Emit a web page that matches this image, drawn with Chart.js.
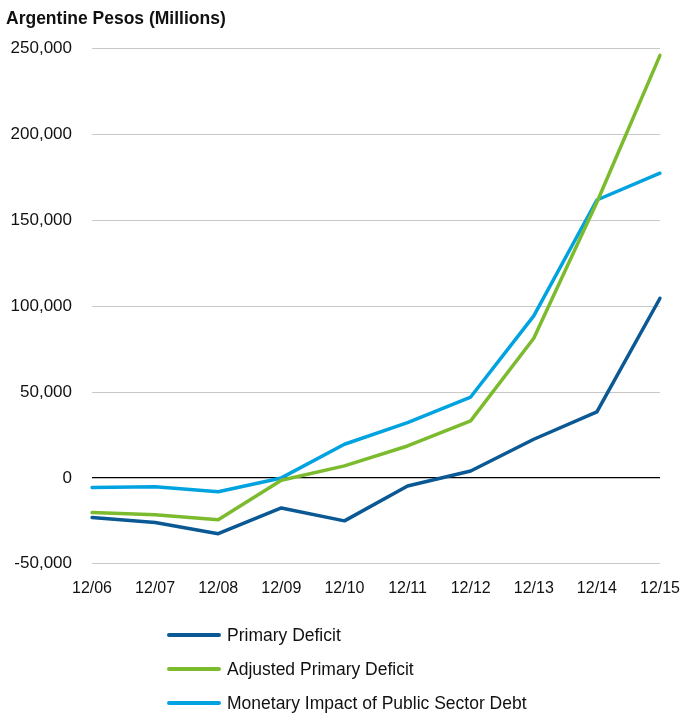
<!DOCTYPE html>
<html>
<head>
<meta charset="utf-8">
<script src="https://cdn.jsdelivr.net/npm/chart.js@4.4.1/dist/chart.umd.min.js"></script>
<style>
    html, body { margin: 0; padding: 0; background: #fff; }
    #wrap { position: relative; width: 680px; height: 715px; }
    #legend { position: absolute; left: 167px; top: 618px; font-family: "Liberation Sans", Arial, sans-serif; font-size: 17.5px; color: #111; }
    .leg-row { display: flex; align-items: center; height: 34px; }
    .leg-line { width: 54px; height: 4px; border-radius: 2px; margin-right: 6px; }
</style>
</head>
<body>
<div id="wrap">
    <canvas id="chart" width="680" height="715"></canvas>
    <div id="legend"></div>
</div>
<script>
// Argentine fiscal deficit chart

const periods = ['12/06', '12/07', '12/08', '12/09', '12/10', '12/11', '12/12', '12/13', '12/14', '12/15'];

const primaryDeficit = [-23000, -26000, -32500, -17500, -25000, -4700, 4000, 22500, 38500, 104600];
const adjustedPrimaryDeficit = [-20200, -21500, -24300, -1400, 7000, 18600, 33200, 81300, 160500, 246000];
const monetaryImpact = [-5600, -5200, -8100, 0, 19600, 32200, 47100, 94300, 161800, 177400];

const yTicks = [-50000, 0, 50000, 100000, 150000, 200000, 250000];

const seriesColors = ['#0a5894', '#7dbb2e', '#00a3df'];
const seriesNames = ['Primary Deficit', 'Adjusted Primary Deficit', 'Monetary Impact of Public Sector Debt'];

const FONT = '"Liberation Sans", Arial, sans-serif';

function makeDataset(label, data, color) {
    return {
        label: label,
        data: data,
        borderColor: color,
        backgroundColor: color,
        borderWidth: 3.5,
        pointRadius: 0,
        tension: 0,
        borderJoinStyle: 'round',
        borderCapStyle: 'round'
    };
}

const ctx = document.getElementById('chart').getContext('2d');
const chart = new Chart(ctx, {
    type: 'line',
    data: {
        labels: periods,
        datasets: [
            makeDataset(seriesNames[0], primaryDeficit, seriesColors[0]),
            makeDataset(seriesNames[1], adjustedPrimaryDeficit, seriesColors[1]),
            makeDataset(seriesNames[2], monetaryImpact, seriesColors[2])
        ]
    },
    options: {
        responsive: false,
        animation: false,
        layout: { padding: { left: 6, right: 20, top: 4, bottom: 102 } },
        plugins: {
            legend: { display: false },
            tooltip: { enabled: false },
            title: {
                display: true,
                text: 'Argentine Pesos (Millions)',
                align: 'start',
                color: '#111',
                font: { family: FONT, size: 17.5, weight: 'bold' },
                padding: { top: 5, bottom: 18.5 }
            }
        },
        scales: {
            x: {
                offset: false,
                grid: { display: false, drawTicks: false },
                border: { display: false },
                ticks: {
                    color: '#111',
                    font: { family: FONT, size: 16 },
                    padding: 15,
                    maxRotation: 0
                },
                afterFit: (axis) => { axis.paddingLeft = 0; axis.paddingRight = 0; }
            },
            y: {
                min: -50000,
                max: 250000,
                afterBuildTicks: (axis) => { axis.ticks = yTicks.map(v => ({ value: v })); },
                afterFit: (axis) => { axis.width = 86; },
                grid: {
                    drawTicks: false,
                    color: (c) => c.tick && c.tick.value === 0 ? '#000' : '#c8c8c8',
                    lineWidth: (c) => c.tick && c.tick.value === 0 ? 1.2 : 1
                },
                border: { display: false },
                ticks: {
                    color: '#111',
                    font: { family: FONT, size: 17 },
                    padding: 20,
                    callback: (v) => v.toLocaleString('en-US')
                }
            }
        }
    }
});

// legend stacked vertically like the original
const legend = document.getElementById('legend');
chart.data.datasets.forEach(ds => {
    const row = document.createElement('div');
    row.className = 'leg-row';
    row.innerHTML = `<span class="leg-line" style="background:${ds.borderColor}"></span><span>${ds.label}</span>`;
    legend.appendChild(row);
});
</script>
</body>
</html>
